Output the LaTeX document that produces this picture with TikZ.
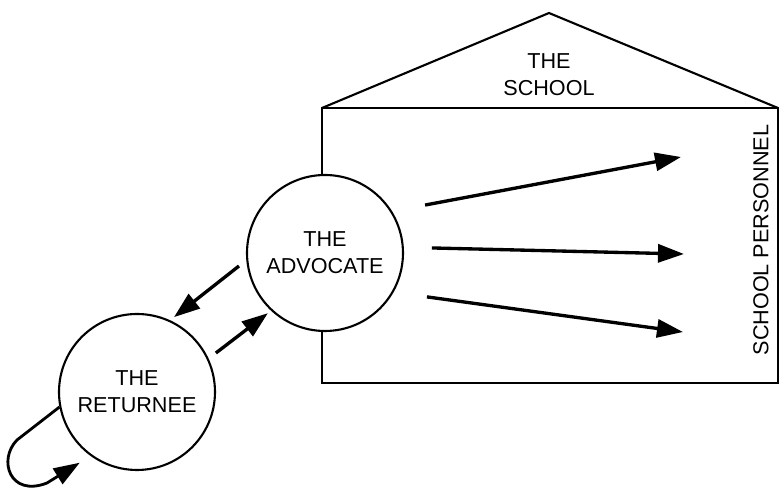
\documentclass[tikz,border=0pt]{standalone}
\usepackage{fontspec}
\setmainfont{Liberation Sans}
\usetikzlibrary{arrows.meta,positioning}

\begin{document}
\begin{tikzpicture}[
    party/.style={draw, line width=1.2pt, circle, fill=white, minimum size=3.12cm, inner sep=0pt, align=center, font=\fontsize{12.3}{15.4}\selectfont},
    lbl/.style={font=\fontsize{12.3}{15.4}\selectfont, align=center, inner sep=0pt},
    flow/.style={-{Triangle[length=5.2mm,width=3.6mm]}, line width=1.9pt}
  ]
  \useasboundingbox (0,0) rectangle (15.66,9.9);

  %--- The school building ---
  \draw[line width=1.2pt] (6.44,7.74) -- (10.98,9.64) -- (15.56,7.74);
  \draw[line width=1.2pt] (6.44,2.24) rectangle (15.56,7.74);
  \node[lbl] (school) at (10.98,8.40) {THE\\SCHOOL};
  \node[lbl, rotate=90] (staff) at (15.22,5.10) {SCHOOL PERSONNEL};

  % Advocate and returnee
  \node[party] (adv) at (6.50,4.84) {THE\\ADVOCATE};
  \node[party] (ret) at (2.74,2.06) {THE\\RETURNEE};

  % Arrow ends at the personnel side
  \coordinate (p1) at (13.62,6.76);
  \coordinate (p2) at (13.68,4.82);
  \coordinate (p3) at (13.66,3.26);

  % Arrows
  \draw[flow] ([shift={(25.6:2.22)}]adv.center) -- (p1);
  \draw[flow] ([shift={(2.7:2.14)}]adv.center) -- (p2);
  \draw[flow] ([shift={(-23.3:2.22)}]adv.center) -- (p3);
  \draw[flow] ([shift={(188.6:1.74)}]adv.center) -- ([shift={(63.7:1.67)}]ret.center);
  \draw[flow] ([shift={(26.3:1.76)}]ret.center) -- ([shift={(226.5:1.66)}]adv.center);
  \draw[flow, line width=1.6pt] (ret.191) -- (0.34,1.10) .. controls (-0.05,0.70) and (0.20,-0.05) .. (0.94,0.24) -- ([shift={(231:1.82)}]ret.center);
\end{tikzpicture}
\end{document}
